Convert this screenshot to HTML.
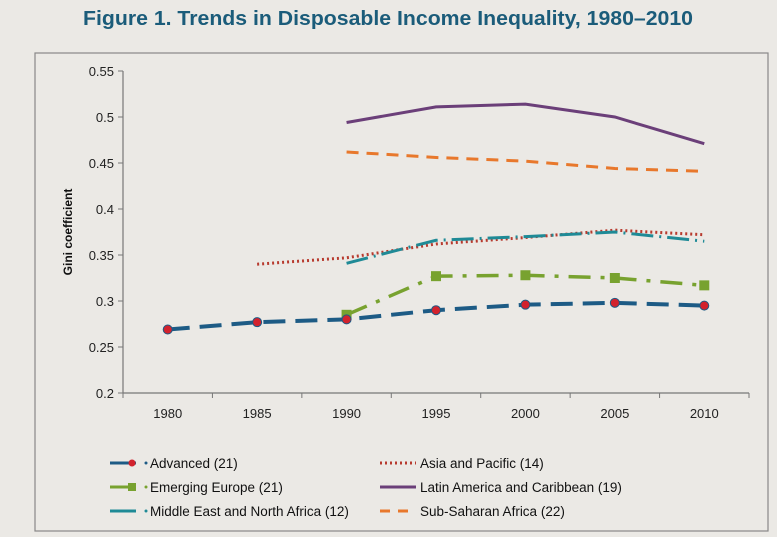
<!DOCTYPE html>
<html><head><meta charset="utf-8"><style>
body{margin:0;background:#ebe9e5;}
svg{display:block;font-family:"Liberation Sans",sans-serif;}
</style></head><body>
<svg width="777" height="537">
<rect x="0" y="0" width="777" height="537" fill="#ebe9e5"/>
<text x="388" y="25" text-anchor="middle" font-size="20" font-weight="bold" fill="#1b5c7a" textLength="610" lengthAdjust="spacingAndGlyphs">Figure 1. Trends in Disposable Income Inequality, 1980–2010</text>
<rect x="35" y="53" width="733" height="478" fill="#ebe9e5" stroke="#888" stroke-width="1.2"/>
<g id="axes"></g>
<g id="series"></g>
<g id="legend"></g>
</svg>
<script>
const years=[1980,1985,1990,1995,2000,2005,2010];
const yTicks=[0.2,0.25,0.3,0.35,0.4,0.45,0.5,0.55];
const advanced=[0.269,0.277,0.280,0.290,0.296,0.298,0.295];
const asiaPacific=[null,0.340,0.347,0.362,0.369,0.377,0.372];
const emergingEurope=[null,null,0.285,0.327,0.328,0.325,0.317];
const mena=[null,null,0.341,0.366,0.370,0.375,0.365];
const latinAmerica=[null,null,0.494,0.511,0.514,0.500,0.471];
const ssa=[null,null,0.462,0.456,0.452,0.444,0.441];
const NS="http://www.w3.org/2000/svg";
const x0=123,x1=749,y0=393,y1=71;
const step=(x1-x0)/years.length;
const X=i=>x0+step*(i+0.5);
const Y=v=>y0-(v-0.2)/(0.55-0.2)*(y0-y1);
function mk(t,a,p){const e=document.createElementNS(NS,t);for(const k in a)e.setAttribute(k,a[k]);p.appendChild(e);return e;}
const ax=document.getElementById('axes');
let yl=mk('line',{x1:x0,y1:y1,x2:x0,y2:y0,stroke:'#777','stroke-width':1.2},ax);


let xl=mk('line',{x1:x0,y1:y0,x2:x1,y2:y0,stroke:'#777','stroke-width':1.2},ax);


yTicks.forEach(v=>{
 mk('line',{x1:x0-5,y1:Y(v),x2:x0,y2:Y(v),stroke:'#777'},ax);
 const t=mk('text',{x:x0-9,y:Y(v)+5,'text-anchor':'end','font-size':13,fill:'#222'},ax);
 t.textContent=String(v);
 
 
});
for(let i=0;i<=years.length;i++)mk('line',{x1:x0+step*i,y1:y0,x2:x0+step*i,y2:y0+5,stroke:'#777'},ax);
years.forEach((yr,i)=>{
 const t=mk('text',{x:X(i),y:y0+25,'text-anchor':'middle','font-size':13,fill:'#222'},ax);
 t.textContent=yr;
 
 
});
const yt=mk('text',{transform:'translate(72,232) rotate(-90)','text-anchor':'middle','font-size':12,'font-weight':'bold',fill:'#111'},ax);
yt.textContent='Gini coefficient';


const series=[
 {name:'latin-america',d:latinAmerica,c:'#6b3f79',dash:'',w:3},
 {name:'sub-saharan-africa',d:ssa,c:'#e8782c',dash:'12 8',w:3},
 {name:'asia-pacific',d:asiaPacific,c:'#b73a2e',dash:'2 3',w:3},
 {name:'middle-east-north-africa',d:mena,c:'#1f8a96',dash:'22 6 2 6',w:3},
 {name:'emerging-europe',d:emergingEurope,c:'#78a22f',dash:'22 10 4 10',w:3.5,m:'sq'},
 {name:'advanced',d:advanced,c:'#1d5b85',dash:'22 10',w:4,m:'ci'}
];
const sg=document.getElementById('series');
series.forEach(s=>{
 const pts=s.d.map((v,i)=>v==null?null:[X(i),Y(v)]).filter(p=>p);
 const p=mk('polyline',{points:pts.map(q=>q.join(',')).join(' '),fill:'none',stroke:s.c,'stroke-width':s.w,'stroke-dasharray':s.dash},sg);
 
 
 pts.forEach(q=>{
  let m=null;
  if(s.m==='ci')m=mk('circle',{cx:q[0],cy:q[1],r:4.5,fill:'#d2222d',stroke:'#1d5b85','stroke-width':1},sg);
  if(s.m==='sq')m=mk('rect',{x:q[0]-5,y:q[1]-5,width:10,height:10,fill:'#78a22f'},sg);
  if(m){}
 });
});
const lg=document.getElementById('legend');
const items=[
 {t:'Advanced (21)',c:'#1d5b85',x:110,y:463,m:'ci',dash:'',dot:true},
 {t:'Emerging Europe (21)',c:'#78a22f',x:110,y:487,m:'sq',dash:'',dot:true},
 {t:'Middle East and North Africa (12)',c:'#1f8a96',x:110,y:511,dash:'',dot:true},
 {t:'Asia and Pacific (14)',c:'#b73a2e',x:380,y:463,dash:'2 3'},
 {t:'Latin America and Caribbean (19)',c:'#6b3f79',x:380,y:487,dash:''},
 {t:'Sub-Saharan Africa (22)',c:'#e8782c',x:380,y:511,dash:'10 8'}
];
items.forEach(it=>{
 const g=mk('g',{},lg);
 
 
 const len=it.dot?26:36;
 mk('line',{x1:it.x,y1:it.y,x2:it.x+len,y2:it.y,stroke:it.c,'stroke-width':3,'stroke-dasharray':it.dash},g);
 if(it.m==='ci')mk('circle',{cx:it.x+len-4,cy:it.y,r:3.5,fill:'#d2222d'},g);
 if(it.m==='sq')mk('rect',{x:it.x+len-8,y:it.y-4,width:8,height:8,fill:'#78a22f'},g);
 if(it.dot)mk('circle',{cx:it.x+36,cy:it.y,r:1.5,fill:it.c},g);
 const t=mk('text',{x:it.x+40,y:it.y+5,'font-size':13.5,fill:'#111'},g);
 t.textContent=it.t;
});
</script>
</body></html>
